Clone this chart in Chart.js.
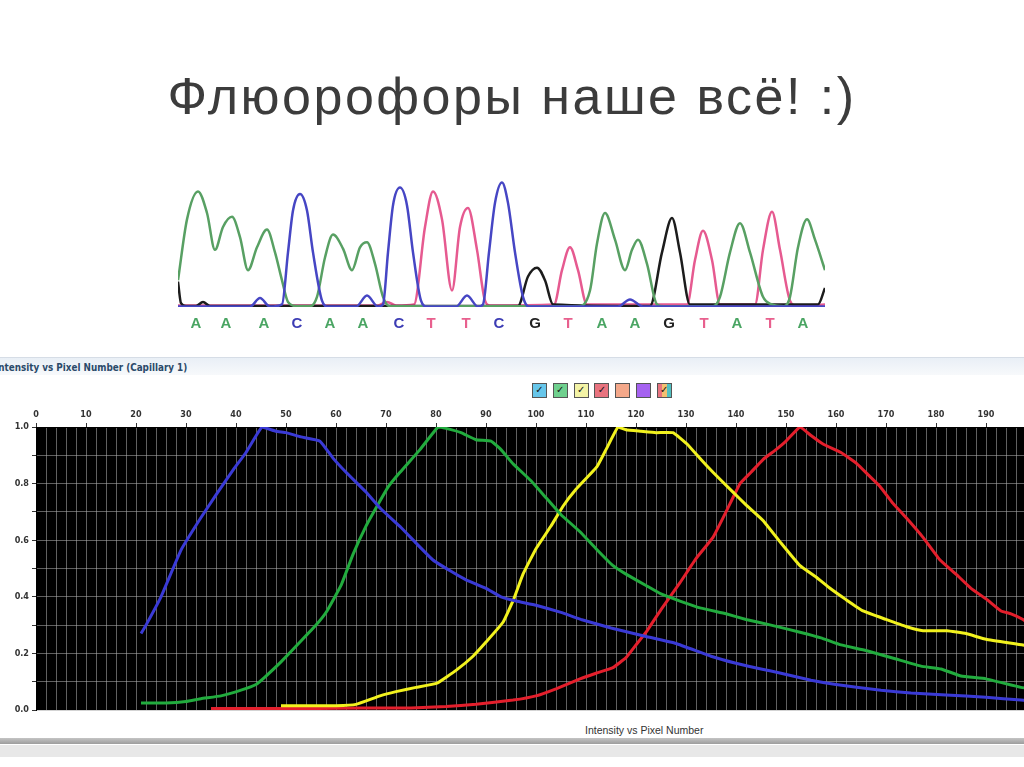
<!DOCTYPE html>
<html>
<head>
<meta charset="utf-8">
<script src="https://cdn.jsdelivr.net/npm/chart.js@4"></script>
<style>
  html, body { margin: 0; padding: 0; }
  body { width: 1024px; height: 767px; overflow: hidden; position: relative; background: #fff; font-family: "Liberation Sans", Arial, sans-serif; }
  #title { position: absolute; left: 0; top: 66px; width: 1024px; text-align: center; font-size: 52px; letter-spacing: 2.5px; color: #3c3c3c; }
  #traceBox { position: absolute; left: 178px; top: 170px; width: 647px; height: 165px; }
  #winHead { position: absolute; left: 0; top: 357px; width: 1024px; height: 17px; border-top: 1px solid #d6dde6; background: linear-gradient(#e9eff6, #f7f9fb); }
  #winTitle { position: absolute; left: -5px; top: 362px; font: bold 9.8px "DejaVu Sans Condensed", "Liberation Sans", sans-serif; color: #2b4a6a; white-space: nowrap; }
  #dyes { position: absolute; left: 532px; top: 383px; height: 15px; }
  .dye { position: absolute; top: 0; width: 13px; height: 13px; border: 1px solid #555; font: bold 10px "DejaVu Sans", sans-serif; line-height: 11px; text-align: center; color: #111; }
  #plotBox { position: absolute; left: 0; top: 395px; width: 1050px; height: 325px; }
  #xName { position: absolute; left: 585px; top: 724px; font: 10.5px "Liberation Sans", Arial, sans-serif; color: #333; white-space: nowrap; }
  #bar1 { position: absolute; left: 0; top: 738px; width: 1024px; height: 6px; background: linear-gradient(#c4c4c4, #9d9d9d); }
  #bar2 { position: absolute; left: 0; top: 745px; width: 1024px; height: 12px; background: #e8e8e8; }
</style>
</head>
<body>
<div id="title">Флюорофоры наше всё! :)</div>
<div id="traceBox"><canvas id="traceChart"></canvas></div>
<div id="winHead"></div>
<div id="winTitle">Intensity vs Pixel Number (Capillary 1)</div>
<div id="dyes"></div>
<div id="plotBox"><canvas id="pixelChart"></canvas></div>
<div id="xName">Intensity vs Pixel Number</div>
<div id="bar1"></div>
<div id="bar2"></div>
<script>
// ---- sequencing trace (top) ----
const basePos = [18, 48, 86, 119, 152, 185, 221, 253, 288, 321, 357, 390, 424, 457, 491, 526, 559, 592, 625];
const baseCalls = ['A', 'A', 'A', 'C', 'A', 'A', 'C', 'T', 'T', 'C', 'G', 'T', 'A', 'A', 'G', 'T', 'A', 'T', 'A'];

const scanA = [0, 9, 20, 29, 37, 45, 54, 62, 70, 79, 89, 97, 104, 110, 119, 132, 139, 147, 155, 165, 174, 182, 189, 197, 205, 212,
  400, 412, 419, 427, 437, 447, 454, 460, 469, 479, 486, 535, 542, 552, 562, 572, 585, 594, 606, 612, 620, 629, 637, 647];
const sigA = [0.21, 0.69, 0.91, 0.74, 0.45, 0.63, 0.71, 0.55, 0.29, 0.47, 0.61, 0.43, 0.21, 0.04, 0.006, 0.006, 0.08, 0.39, 0.57, 0.46, 0.29, 0.47, 0.51, 0.34, 0.08, 0.006,
  0.006, 0.13, 0.5, 0.74, 0.53, 0.29, 0.45, 0.53, 0.34, 0.02, 0.006, 0.006, 0.08, 0.43, 0.66, 0.43, 0.08, 0.02, 0.006, 0.08, 0.47, 0.69, 0.53, 0.29];

const scanC = [0, 72, 82, 92, 104, 110, 115, 122, 129, 135, 144, 150, 178, 189, 200, 205, 210, 215, 222, 229, 235, 243, 249,
  278, 289, 300, 305, 311, 317, 324, 330, 337, 345, 351, 440, 452, 465, 647];
const sigC = [0.003, 0.003, 0.07, 0.003, 0.02, 0.43, 0.76, 0.89, 0.76, 0.43, 0.05, 0.003, 0.003, 0.09, 0.003, 0.02, 0.43, 0.8, 0.94, 0.8, 0.43, 0.05, 0.003,
  0.003, 0.09, 0.003, 0.02, 0.43, 0.82, 0.98, 0.82, 0.43, 0.08, 0.003, 0.003, 0.06, 0.003, 0.003];

const scanG = [0, 3, 8, 18, 25, 32, 340, 350, 359, 367, 375, 472, 484, 494, 502, 512, 640, 647];
const sigG = [0.2, 0.03, 0.008, 0.008, 0.04, 0.008, 0.008, 0.24, 0.31, 0.21, 0.02, 0.008, 0.43, 0.7, 0.43, 0.02, 0.02, 0.15];

const scanT = [0, 200, 209, 218, 236, 247, 255, 264, 274, 282, 290, 299, 307, 312, 376, 384, 392, 400, 409,
  509, 517, 525, 534, 542, 577, 585, 594, 602, 612, 618, 647];
const sigT = [0.012, 0.012, 0.04, 0.012, 0.02, 0.63, 0.91, 0.69, 0.13, 0.63, 0.78, 0.45, 0.05, 0.012, 0.02, 0.29, 0.47, 0.29, 0.02,
  0.02, 0.37, 0.6, 0.37, 0.02, 0.02, 0.45, 0.75, 0.45, 0.05, 0.012, 0.02];

const baseColors = { A: '#4aa563', C: '#3c3cb4', G: '#222222', T: '#e8608e' };
const traceColors = { A: '#58a063', C: '#4646c4', G: '#1c1c1c', T: '#e65a90' };

// ---- intensity vs pixel number (bottom) ----
const pixelBlue = [21, 22, 25, 29, 33, 36, 39.5, 42, 45.2, 48, 50, 53, 56.8, 59.4, 62, 66, 69, 73, 76, 79.4, 83, 86, 90, 93, 96, 100, 105, 109,
  115, 122, 128, 135, 140, 145, 149, 155, 160, 169, 175, 182, 190, 197, 200];
const intBlue = [0.27, 0.30, 0.40, 0.565, 0.68, 0.76, 0.85, 0.91, 1.0, 0.985, 0.98, 0.965, 0.95, 0.89, 0.84, 0.77, 0.71, 0.645, 0.59, 0.53, 0.49, 0.46, 0.43, 0.40, 0.385, 0.37, 0.345, 0.32,
  0.29, 0.26, 0.235, 0.19, 0.165, 0.145, 0.13, 0.105, 0.09, 0.07, 0.06, 0.053, 0.045, 0.035, 0.03];

const pixelGreen = [21, 26, 30, 33, 37, 41, 44, 46, 49, 52.8, 56, 58.2, 61, 63.4, 66, 68.2, 70.5, 72.8, 76.8, 80.4, 82, 85, 88, 91, 93, 95.4, 99, 102,
  105, 108.8, 112, 115.4, 118, 122, 125, 128.8, 133, 138, 142, 147, 152.8, 157, 161, 166, 172, 177, 181, 185, 190, 197, 200];
const intGreen = [0.025, 0.025, 0.03, 0.04, 0.05, 0.07, 0.09, 0.12, 0.17, 0.24, 0.30, 0.35, 0.44, 0.55, 0.65, 0.72, 0.79, 0.84, 0.92, 1.0, 0.995, 0.98, 0.955, 0.95, 0.92, 0.87, 0.81, 0.75,
  0.69, 0.63, 0.57, 0.51, 0.48, 0.44, 0.41, 0.385, 0.36, 0.34, 0.32, 0.30, 0.275, 0.255, 0.23, 0.21, 0.18, 0.155, 0.145, 0.12, 0.11, 0.08, 0.075];

const pixelYellow = [49, 55, 60, 64, 68.8, 72, 76, 80.2, 84, 87.4, 90, 93.4, 95.5, 97.4, 100, 103, 105.4, 108, 112.2, 114, 116.4, 118, 121, 124, 127.4, 130.2, 133,
  135.4, 139.4, 142, 145.4, 149, 152.8, 156, 158.8, 162, 165.4, 170, 174, 177.4, 182.2, 186, 190, 197.4, 200];
const intYellow = [0.015, 0.015, 0.015, 0.02, 0.05, 0.065, 0.08, 0.095, 0.14, 0.19, 0.24, 0.31, 0.39, 0.48, 0.57, 0.65, 0.72, 0.78, 0.86, 0.92, 1.0, 0.99, 0.985, 0.98, 0.98, 0.94, 0.885,
  0.84, 0.77, 0.725, 0.67, 0.59, 0.51, 0.47, 0.43, 0.39, 0.35, 0.32, 0.295, 0.28, 0.28, 0.27, 0.25, 0.23, 0.22];

const pixelRed = [35, 45, 55, 65, 75, 82, 88, 95.4, 100, 104, 108.8, 112, 115.4, 118, 120, 122.2, 125, 128.8, 132, 135.4, 138, 140.8, 143, 145.4, 148, 150,
  152.8, 155, 157.4, 161, 164.2, 166.5, 168.8, 171.4, 174, 177.4, 180.8, 184, 187, 190.2, 193, 195, 197.4, 200];
const intRed = [0.005, 0.005, 0.005, 0.007, 0.007, 0.012, 0.02, 0.035, 0.05, 0.075, 0.11, 0.13, 0.15, 0.185, 0.23, 0.28, 0.355, 0.45, 0.535, 0.61, 0.70, 0.80, 0.84, 0.885, 0.92, 0.95,
  1.0, 0.97, 0.94, 0.91, 0.87, 0.83, 0.79, 0.73, 0.68, 0.61, 0.53, 0.48, 0.43, 0.39, 0.35, 0.34, 0.32, 0.285];

const dyeBoxes = [
  { fill: '#67c6ea', checked: true },
  { fill: '#6fd08e', checked: true },
  { fill: '#f3f3a6', checked: true },
  { fill: '#e8737f', checked: true },
  { fill: '#f4a88a', checked: false },
  { fill: '#a562f0', checked: false },
  { fill: 'linear-gradient(90deg,#e8737f 0 33%,#f3c070 33% 66%,#52c0c0 66%)', checked: true }
];

function pts(xs, ys) {
  return xs.map((x, i) => ({ x: x, y: ys[i] }));
}

// dye check boxes above the plot
const dyeHolder = document.getElementById('dyes');
dyeBoxes.forEach((d, i) => {
  const el = document.createElement('div');
  el.className = 'dye';
  el.style.left = (i * 20.8) + 'px';
  el.style.background = d.fill;
  el.textContent = d.checked ? '✓' : '';
  dyeHolder.appendChild(el);
});

Chart.defaults.animation = false;

new Chart(document.getElementById('traceChart'), {
  type: 'line',
  data: {
    datasets: [
      { label: 'C', data: pts(scanC, sigC), borderColor: traceColors.C },
      { label: 'A', data: pts(scanA, sigA), borderColor: traceColors.A },
      { label: 'G', data: pts(scanG, sigG), borderColor: traceColors.G },
      { label: 'T', data: pts(scanT, sigT), borderColor: traceColors.T }
    ]
  },
  options: {
    responsive: true,
    maintainAspectRatio: false,
    layout: { padding: { top: 10, left: 0, right: 0, bottom: 0 } },
    elements: {
      line: { borderWidth: 2.5, cubicInterpolationMode: 'monotone' },
      point: { radius: 0 }
    },
    plugins: { legend: { display: false }, tooltip: { enabled: false } },
    scales: {
      x: {
        type: 'linear', min: 0, max: 647,
        grid: { display: false },
        border: { display: false },
        afterBuildTicks: (scale) => { scale.ticks = basePos.map(v => ({ value: v })); },
        afterFit: (scale) => { scale.height = 28; },
        ticks: {
          autoSkip: false, maxRotation: 0, padding: 0,
          font: { family: 'Liberation Sans', size: 15, weight: 'bold' },
          color: (ctx) => baseColors[baseCalls[ctx.index]],
          callback: (value, index) => baseCalls[index]
        }
      },
      y: { display: false, min: 0, max: 1 }
    }
  }
});

const blackPlot = {
  id: 'blackPlot',
  beforeDraw(chart) {
    const a = chart.chartArea;
    chart.ctx.save();
    chart.ctx.fillStyle = '#000';
    chart.ctx.fillRect(a.left, a.top, a.right - a.left, a.bottom - a.top);
    chart.ctx.restore();
  }
};

const axisFont = { family: '"DejaVu Sans Condensed", "Liberation Sans", sans-serif', size: 9, weight: 'bold' };

new Chart(document.getElementById('pixelChart'), {
  type: 'line',
  data: {
    datasets: [
      { label: 'Blue', data: pts(pixelBlue, intBlue), borderColor: '#3a3ad6' },
      { label: 'Green', data: pts(pixelGreen, intGreen), borderColor: '#22ac3e' },
      { label: 'Yellow', data: pts(pixelYellow, intYellow), borderColor: '#f2f21e' },
      { label: 'Red', data: pts(pixelRed, intRed), borderColor: '#e41f2c' }
    ]
  },
  plugins: [blackPlot],
  options: {
    responsive: true,
    maintainAspectRatio: false,
    layout: { padding: { top: 0, left: 0, right: 14, bottom: 10 } },
    elements: {
      line: { borderWidth: 3, tension: 0.1 },
      point: { radius: 0 }
    },
    plugins: { legend: { display: false }, tooltip: { enabled: false } },
    scales: {
      x: {
        type: 'linear', position: 'top', min: 0, max: 200,
        afterFit: (scale) => { scale.height = 32; },
        grid: {
          color: 'rgba(175,175,175,0.55)', lineWidth: 1, tickLength: 4,
          tickColor: (ctx) => (ctx.tick && ctx.tick.value % 10 === 0) ? '#333' : 'rgba(0,0,0,0)'
        },
        border: { color: '#000' },
        ticks: {
          stepSize: 2, autoSkip: false, maxRotation: 0, padding: 3,
          color: '#333', font: axisFont,
          callback: (v) => (v % 10 === 0 ? String(v) : '')
        }
      },
      y: {
        min: 0, max: 1,
        afterFit: (scale) => { scale.width = 36; },
        grid: { color: 'rgba(175,175,175,0.55)', lineWidth: 1, tickLength: 4, tickColor: '#333' },
        border: { color: '#000' },
        ticks: {
          stepSize: 0.1, autoSkip: false, padding: 3,
          color: '#333', font: axisFont,
          callback: (v) => (Math.round(v * 10) % 2 === 0 ? v.toFixed(1) : '')
        }
      }
    }
  }
});
</script>
</body>
</html>
